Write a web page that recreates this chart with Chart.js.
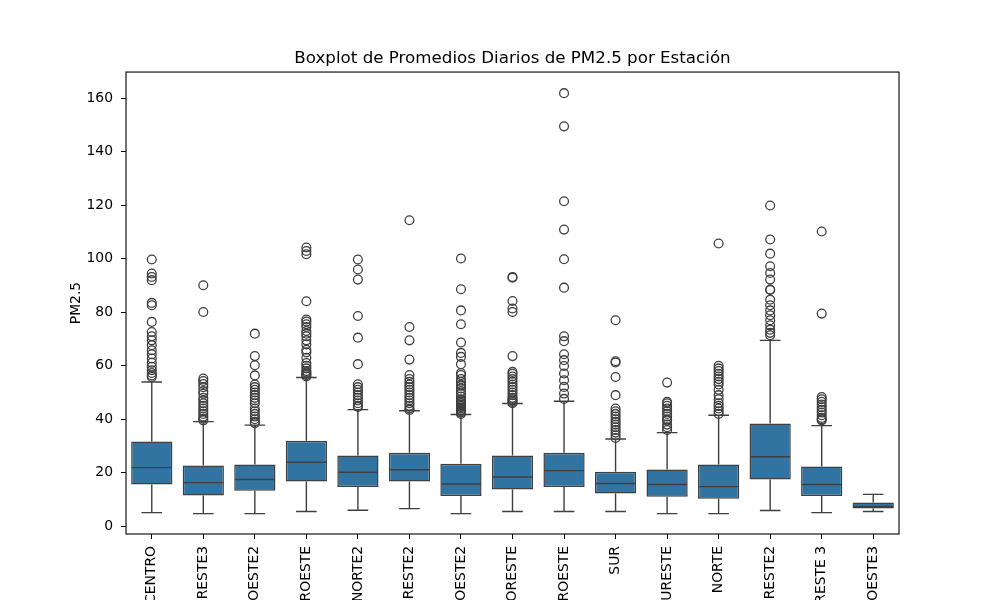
<!DOCTYPE html>
<html>
<head>
<meta charset="utf-8">
<script src="https://cdn.jsdelivr.net/npm/chart.js@4"></script>
<style>
  html, body { margin: 0; padding: 0; background: #fff; }
  #wrap { width: 1000px; height: 600px; position: relative; }
</style>
</head>
<body>
<div id="wrap"><canvas id="boxChart"></canvas></div>
<script>
// Estaciones y estadísticos de cada caja
const stations = ['CENTRO', 'SURESTE3', 'SUROESTE2', 'NOROESTE', 'NORTE2', 'SURESTE2', 'NOROESTE2',
    'NORESTE', 'SUROESTE', 'SUR', 'SURESTE', 'NORTE', 'NORESTE2', 'SURESTE 3', 'NOROESTE3'];
const whiskerLow  = [5.1, 4.7, 4.7, 5.5, 6.0, 6.6, 4.7, 5.5, 5.5, 5.5, 4.7, 4.7, 5.9, 5.1, 5.5];
const q1          = [15.6, 11.5, 13.3, 16.7, 14.7, 16.7, 11.3, 13.7, 14.7, 12.2, 11.0, 10.3, 17.5, 11.3, 6.6];
const medians     = [21.9, 16.3, 17.5, 23.9, 20.2, 21.1, 15.8, 18.4, 20.8, 16.0, 15.6, 14.8, 26.0, 15.6, 7.4];
const q3          = [31.7, 22.7, 23.1, 32.0, 26.4, 27.5, 23.4, 26.4, 27.5, 20.4, 21.2, 23.1, 38.4, 22.3, 8.9];
const whiskerHigh = [53.9, 39.1, 37.8, 55.6, 43.6, 43.2, 41.8, 45.9, 46.7, 32.6, 35.0, 41.5, 69.5, 37.6, 11.9];

// Valores atípicos por estación
const outliers = [
    [99.7, 94.5, 93.2, 92.0, 83.5, 82.6, 76.4, 72.6, 71.0, 69.5, 67.7, 65.8, 64.3, 62.7, 61.1, 59.6, 58.3, 57.3, 56.4, 55.8],
    [90.1, 80.1, 55.2, 54.3, 53.2, 52.0, 50.5, 49.5, 48.0, 47.0, 46.0, 45.0, 44.0, 43.0, 42.0, 41.0, 40.2, 39.6],
    [72.0, 63.6, 60.2, 56.4, 53.0, 52.0, 51.0, 50.0, 49.0, 48.0, 47.0, 46.0, 44.0, 43.0, 42.0, 41.0, 40.0, 39.0, 38.5],
    [104.2, 102.9, 101.7, 84.1, 77.3, 76.5, 75.5, 74.5, 73.0, 72.0, 71.0, 69.5, 68.0, 66.0, 65.0, 63.0, 61.0, 60.0, 59.0, 58.0, 57.5, 57.0, 56.5, 56.0],
    [99.7, 96.0, 92.2, 78.6, 70.5, 60.6, 53.1, 52.0, 51.0, 50.0, 49.0, 48.0, 47.0, 46.0, 45.0, 44.6],
    [114.4, 74.5, 69.5, 62.3, 56.5, 55.0, 54.0, 53.0, 52.0, 51.0, 50.0, 49.0, 48.0, 47.0, 46.0, 45.0, 44.0, 43.5],
    [100.1, 88.6, 80.7, 75.5, 68.7, 64.8, 63.3, 60.6, 57.3, 56.5, 55.0, 54.0, 53.0, 52.5, 51.5, 50.5, 49.5, 48.5, 47.5, 47.0, 46.5, 46.0, 45.5, 45.0, 44.5, 44.0, 43.5, 43.0, 42.5, 42.0],
    [93.2, 92.9, 84.2, 81.4, 80.1, 63.6, 57.7, 57.0, 56.0, 55.0, 54.0, 53.0, 52.0, 51.0, 50.0, 49.0, 48.0, 47.5, 47.0, 46.5, 46.0],
    [161.9, 149.5, 121.5, 110.9, 99.8, 89.2, 71.0, 69.2, 64.3, 62.1, 59.9, 57.1, 54.6, 52.1, 49.6, 47.6],
    [77.0, 61.7, 61.2, 55.8, 49.0, 44.0, 43.0, 42.0, 41.0, 40.0, 39.0, 38.0, 37.0, 36.0, 35.0, 34.0, 33.0],
    [53.7, 46.5, 46.0, 45.0, 44.0, 43.0, 42.0, 41.0, 40.0, 39.5, 38.0, 37.0, 36.0],
    [105.7, 60.0, 59.0, 58.0, 57.0, 56.0, 55.0, 54.0, 53.0, 51.0, 49.0, 47.5, 46.0, 45.0, 44.0, 43.0, 42.0],
    [119.9, 107.2, 101.9, 97.2, 94.7, 92.2, 88.5, 88.3, 84.7, 82.6, 80.7, 78.9, 77.0, 75.1, 73.5, 72.3, 71.4],
    [110.2, 79.5, 48.3, 47.5, 46.5, 45.5, 44.5, 43.5, 42.5, 41.5, 40.5, 40.0, 39.6],
    []
];

const yTicks = [0, 20, 40, 60, 80, 100, 120, 140, 160];

const boxColor = '#3274a1';
const lineColor = '#3f3f3f';

Chart.defaults.font.family = 'DejaVu Sans';
Chart.defaults.color = '#000';

// puntos atípicos como {x, y}
const outlierPoints = [];
outliers.forEach((list, i) => {
    list.forEach(v => outlierPoints.push({ x: stations[i], y: v }));
});

// bigotes, topes y mediana
const boxLines = {
    id: 'boxLines',
    afterDatasetDraw(chart, args) {
        if (args.index !== 0) return;
        const { ctx } = chart;
        const x = chart.scales.x;
        const y = chart.scales.y;
        const meta = chart.getDatasetMeta(0);
        ctx.save();
        ctx.strokeStyle = lineColor;
        ctx.lineWidth = 1.4;
        stations.forEach((s, i) => {
            const cx = x.getPixelForValue(i);
            const half = meta.data[i].width / 2;
            const cap = half / 2;
            const yLo = y.getPixelForValue(whiskerLow[i]);
            const yQ1 = y.getPixelForValue(q1[i]);
            const yMed = y.getPixelForValue(medians[i]);
            const yQ3 = y.getPixelForValue(q3[i]);
            const yHi = y.getPixelForValue(whiskerHigh[i]);
            ctx.beginPath();
            ctx.moveTo(cx, yQ1); ctx.lineTo(cx, yLo);
            ctx.moveTo(cx, yQ3); ctx.lineTo(cx, yHi);
            ctx.moveTo(cx - cap, yLo); ctx.lineTo(cx + cap, yLo);
            ctx.moveTo(cx - cap, yHi); ctx.lineTo(cx + cap, yHi);
            ctx.moveTo(cx - half + 0.7, yMed); ctx.lineTo(cx + half - 0.7, yMed);
            ctx.stroke();
        });
        ctx.restore();
    }
};

// marco completo del área (como matplotlib) y título centrado sobre el área
const frame = {
    id: 'frame',
    afterLayout(chart) {
        const t = chart.titleBlock;
        if (t) {
            t.left = chart.chartArea.left;
            t.right = chart.chartArea.right;
            t.width = t.right - t.left;
        }
    },
    afterDraw(chart) {
        const { ctx, chartArea: a } = chart;
        ctx.save();
        ctx.strokeStyle = '#000';
        ctx.lineWidth = 1.1;
        ctx.strokeRect(a.left, a.top, a.right - a.left, a.bottom - a.top);
        ctx.restore();
    }
};

const ctx = document.getElementById('boxChart').getContext('2d');
new Chart(ctx, {
    type: 'bar',
    data: {
        labels: stations,
        datasets: [
            {
                label: 'caja',
                data: stations.map((s, i) => [q1[i], q3[i]]),
                backgroundColor: boxColor,
                borderColor: lineColor,
                borderWidth: 1.5,
                borderSkipped: false,
                barPercentage: 0.8,
                categoryPercentage: 1.0,
                order: 2
            },
            {
                type: 'line',
                label: 'atípicos',
                data: outlierPoints,
                showLine: false,
                pointRadius: 4.4,
                pointBorderWidth: 1.3,
                pointBorderColor: lineColor,
                pointBackgroundColor: 'rgba(0,0,0,0)',
                order: 1
            }
        ]
    },
    options: {
        responsive: true,
        maintainAspectRatio: false,
        animation: false,
        layout: { padding: { left: 0, right: 101, top: 0, bottom: 0 } },
        plugins: {
            legend: { display: false },
            tooltip: { enabled: false },
            title: {
                display: true,
                text: 'Boxplot de Promedios Diarios de PM2.5 por Estación',
                font: { size: 16.7, weight: 'normal' },
                color: '#000',
                padding: { top: 49, bottom: 3 }
            }
        },
        scales: {
            x: {
                type: 'category',
                offset: true,
                afterFit(scale) { scale.height = 66; },
                border: { display: false },
                grid: { display: true, drawOnChartArea: false, drawTicks: true, tickLength: 5, color: '#000', offset: false },
                ticks: { minRotation: 90, maxRotation: 90, autoSkip: false, padding: 7, font: { size: 13.9 } }
            },
            y: {
                min: -2.9,
                max: 169.8,
                afterFit(scale) { scale.width = 126; },
                afterBuildTicks(scale) { scale.ticks = yTicks.map(v => ({ value: v })); },
                border: { display: false },
                grid: { display: true, drawOnChartArea: false, drawTicks: true, tickLength: 5, color: '#000' },
                ticks: { padding: 8, font: { size: 13.9 } },
                title: {
                    display: true,
                    text: 'PM2.5',
                    font: { size: 13.9 },
                    padding: { top: 68, bottom: 0 }
                }
            }
        }
    },
    plugins: [boxLines, frame]
});
</script>
</body>
</html>
